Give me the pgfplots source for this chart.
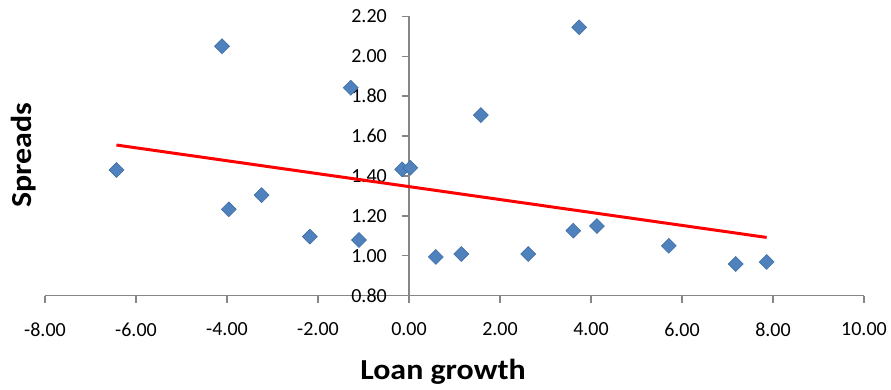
\documentclass[border=0pt]{standalone}
\usepackage{fontspec}
\setmainfont{Carlito}
\newfontfamily\labelfont{Carlito}[FakeStretch=1.1]
\usepackage{pgfplots}
\pgfplotsset{compat=1.18}

\definecolor{axisgray}{HTML}{868686}
\definecolor{markblue}{HTML}{4F81BD}
\definecolor{markedge}{HTML}{3A6A9F}

\begin{document}
\begin{tikzpicture}
\useasboundingbox (-45pt,-93.3pt) rectangle (846pt,295.7pt);
\begin{axis}[
  at={(0,0)}, anchor=south west,
  scale only axis,
  width=819pt, height=279.4pt,
  xmin=-8, xmax=10, ymin=0.8, ymax=2.2,
  axis x line=bottom,
  axis y line=center,
  axis line style={draw=axisgray, line width=1.3pt, -},
  hide obscured x ticks=false,
  hide obscured y ticks=false,
  xtick={-8,-6,-4,-2,0,2,4,6,8,10},
  ytick={0.8,1.0,1.2,1.4,1.6,1.8,2.0,2.2},
  tick align=outside,
  major tick length=7pt,
  tick style={draw=axisgray, line width=1.3pt},
  minor tick num=0,
  /pgf/number format/assume math mode=true,
  /pgf/number format/.cd, fixed, fixed zerofill, precision=2, use period,
  /pgfplots/.cd,
  tick label style={font=\fontsize{20}{24}\selectfont, text=black},
  yticklabel style={anchor=east, inner sep=0pt, xshift=-15pt},
  xticklabel style={anchor=north, inner sep=0pt, yshift=-20pt},
  xlabel={Loan growth},
  ylabel={Spreads},
  xlabel style={at={(rel axis cs:0.486,-0.273)}, anchor=center,
    font=\labelfont\fontsize{29}{32}\selectfont\bfseries},
  ylabel style={at={(rel axis cs:-0.0256,0.504)}, anchor=center, rotate=90,
    font=\labelfont\fontsize{29}{32}\selectfont\bfseries},
  clip=false,
]
% observations
\addplot[only marks, mark=square*, mark size=5.3pt,
  mark options={rotate=45, fill=markblue, draw=markedge, line width=0.5pt}]
  coordinates {
  (-6.43,1.430) (-4.11,2.050) (-3.96,1.233) (-3.24,1.304) (-2.18,1.096)
  (-1.28,1.842) (-1.10,1.079) (-0.15,1.433) (0.03,1.441) (0.59,0.994)
  (1.15,1.009) (1.58,1.705) (2.62,1.009) (3.61,1.126) (3.74,2.145)
  (4.13,1.149) (5.71,1.050) (7.18,0.959) (7.86,0.969)
  };
% linear trend
\addplot[red, line width=3pt] coordinates {(-6.43,1.555) (7.86,1.092)};
\end{axis}
\end{tikzpicture}
\end{document}
